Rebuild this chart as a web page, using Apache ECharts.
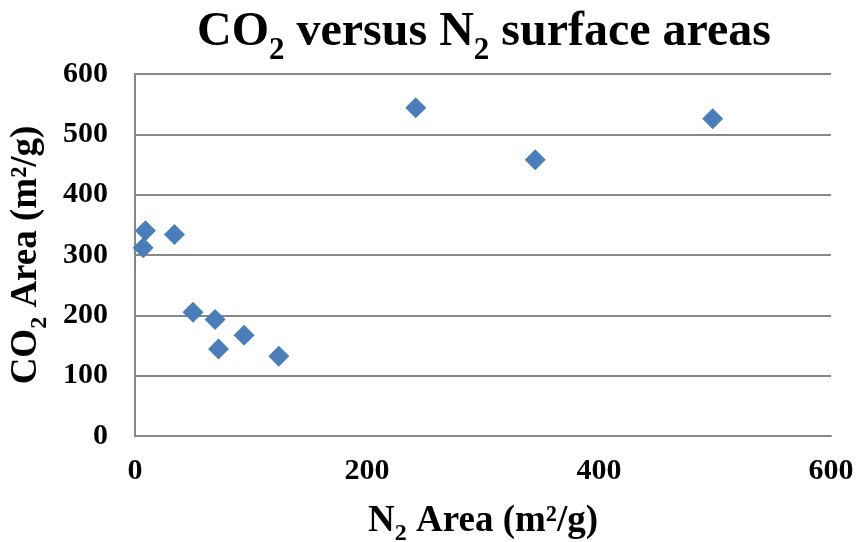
<!DOCTYPE html>
<html>
<head>
<meta charset="utf-8">
<script src="https://cdn.jsdelivr.net/npm/echarts@6/dist/echarts.min.js"></script>
<style>
html, body { margin: 0; padding: 0; background: #fff; }
#chart { width: 858px; height: 542px; }
</style>
</head>
<body>
<div id="chart"></div>
<script>
// values
var n2Area = [9, 7, 34, 50, 69, 72, 94, 124, 242, 345, 498];
var co2Area = [340, 312, 334, 205, 193, 144, 167, 132, 544, 458, 526];
var xTicks = [0, 200, 400, 600];
var yTicks = [0, 100, 200, 300, 400, 500, 600];

var points = n2Area.map(function (x, i) { return [x, co2Area[i]]; });

var serif = '"Liberation Serif", "Times New Roman", serif';
var gridColor = '#878787';

function subRich(big, small, drop) {
    return {
        a: { fontFamily: serif, fontWeight: 'bold', fontSize: big, color: '#000', lineHeight: big + 4, verticalAlign: 'bottom' },
        s: { fontFamily: serif, fontWeight: 'bold', fontSize: small, color: '#000', lineHeight: small + 4, verticalAlign: 'bottom', padding: [0, 0, -drop, 0] }
    };
}

var myChart = echarts.init(document.getElementById('chart'));
var option = {
    backgroundColor: '#fff',
    animation: false,
    title: {
        text: '{a|CO}{s|2}{a| versus N}{s|2}{a| surface areas}',
        left: 479,
        top: 0,
        textAlign: 'center',
        textStyle: { rich: subRich(48, 31, 9) }
    },
    grid: { left: 135, right: 27, top: 74, bottom: 106, outerBoundsMode: 'none' },
    xAxis: {
        type: 'value',
        min: xTicks[0],
        max: xTicks[xTicks.length - 1],
        interval: 200,
        name: '{a|N}{s|2}{a| Area (m²/g)}',
        nameLocation: 'middle',
        nameGap: 63,
        nameTextStyle: { rich: subRich(37, 24, 6) },
        axisLine: { show: true, onZero: false, lineStyle: { color: gridColor, width: 2 } },
        axisTick: { show: false },
        splitLine: { show: false },
        axisLabel: { margin: 20, fontFamily: serif, fontWeight: 'bold', fontSize: 30, color: '#000' }
    },
    yAxis: {
        type: 'value',
        min: yTicks[0],
        max: yTicks[yTicks.length - 1],
        interval: 100,
        name: '{a|CO}{s|2}{a| Area (m²/g)}',
        nameLocation: 'middle',
        nameRotate: 90,
        nameGap: 84,
        nameTextStyle: { rich: subRich(37, 24, 7) },
        axisLine: { show: true, lineStyle: { color: gridColor, width: 2 } },
        axisTick: { show: false },
        splitLine: { show: true, lineStyle: { color: gridColor, width: 2 } },
        axisLabel: { margin: 27, fontFamily: serif, fontWeight: 'bold', fontSize: 30, color: '#000' }
    },
    series: [{
        type: 'scatter',
        data: points,
        symbol: 'diamond',
        symbolSize: [21, 21],
        itemStyle: { color: '#4a7ebb', opacity: 1 }
    }]
};
myChart.setOption(option);
</script>
</body>
</html>
